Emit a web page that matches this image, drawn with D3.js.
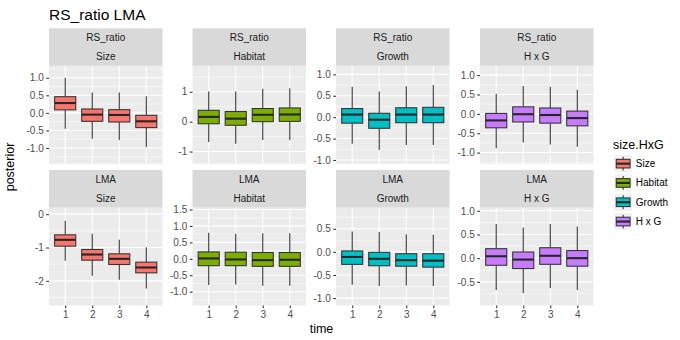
<!DOCTYPE html>
<html>
<head>
<meta charset="utf-8">
<script src="https://cdnjs.cloudflare.com/ajax/libs/d3/7.8.5/d3.min.js"></script>
<style>
  body { margin: 0; background: #fff; }
  text { font-family: "Liberation Sans", Arial, sans-serif; }
</style>
</head>
<body>
<div id="chart"></div>
<script>
// data: [lower whisker, q1, median, q3, upper whisker] per time
const times = ['1', '2', '3', '4'];
const variables = ['RS_ratio', 'LMA'];
const groups = ['Size', 'Habitat', 'Growth', 'H x G'];

const rsSize = [[-0.45, 0.085, 0.28, 0.46, 1.0], [-0.74, -0.24, -0.05, 0.11, 0.58], [-0.77, -0.26, -0.06, 0.09, 0.58], [-0.97, -0.42, -0.24, -0.07, 0.47]];
const rsHabitat = [[-0.68, -0.07, 0.16, 0.38, 1.01], [-0.74, -0.12, 0.10, 0.34, 1.01], [-0.61, 0.0, 0.23, 0.44, 1.10], [-0.61, 0.01, 0.24, 0.46, 1.12]];
const rsGrowth = [[-0.62, -0.14, 0.06, 0.2, 0.71], [-0.77, -0.26, -0.06, 0.09, 0.6], [-0.65, -0.13, 0.06, 0.22, 0.72], [-0.65, -0.13, 0.06, 0.23, 0.75]];
const rsHxG = [[-0.89, -0.36, -0.17, 0.01, 0.52], [-0.74, -0.21, -0.01, 0.18, 0.72], [-0.79, -0.24, -0.03, 0.15, 0.70], [-0.85, -0.31, -0.11, 0.07, 0.62]];
const lmaSize = [[-1.40, -0.96, -0.77, -0.62, -0.2], [-1.85, -1.38, -1.21, -1.06, -0.59], [-1.97, -1.51, -1.34, -1.19, -0.77], [-2.23, -1.76, -1.60, -1.44, -0.99]];
const lmaHabitat = [[-0.8, -0.21, 0.01, 0.21, 0.79], [-0.78, -0.21, -0.02, 0.2, 0.76], [-0.82, -0.23, -0.04, 0.19, 0.78], [-0.82, -0.23, -0.03, 0.19, 0.78]];
const lmaGrowth = [[-0.71, -0.27, -0.11, 0.02, 0.44], [-0.74, -0.30, -0.15, -0.01, 0.43], [-0.73, -0.31, -0.18, -0.04, 0.38], [-0.74, -0.33, -0.19, -0.04, 0.37]];
const lmaHxG = [[-0.67, -0.15, 0.04, 0.2, 0.72], [-0.74, -0.22, -0.03, 0.13, 0.65], [-0.63, -0.13, 0.05, 0.22, 0.72], [-0.67, -0.17, 0.0, 0.16, 0.67]];

// free y scales: limits and tick labels per panel
const rsLimits = [[-1.45, 1.34], [-1.41, 1.87], [-1.09, 1.2], [-1.29, 1.24]];
const lmaLimits = [[-2.74, 0.2], [-1.42, 1.56], [-1.16, 0.96], [-1.0, 1.07]];
const rsTicks = [['1.0', '0.5', '0.0', '-0.5', '-1.0'], ['1', '0', '-1'], ['1.0', '0.5', '0.0', '-0.5', '-1.0'], ['1.0', '0.5', '0.0', '-0.5', '-1.0']];
const lmaTicks = [['0', '-1', '-2'], ['1.5', '1.0', '0.5', '0.0', '-0.5', '-1.0'], ['0.5', '0.0', '-0.5', '-1.0'], ['1.0', '0.5', '0.0', '-0.5']];

const panelStats = [[rsSize, rsHabitat, rsGrowth, rsHxG], [lmaSize, lmaHabitat, lmaGrowth, lmaHxG]];
const panelLimits = [rsLimits, lmaLimits];
const panelTicks = [rsTicks, lmaTicks];

const fills = ['#F8766D', '#7CAE00', '#00BFC4', '#C77CFF'];

// layout
const svgwidth = 680;
const svgheight = 340;
const panelLeft = [49, 192.5, 336, 480];
const panelW = 113.5;
const stripTop = [28.3, 170];
const stripH = 37.5;
const panelH = 98;
const small = 10;

const svg = d3.select('#chart').append('svg')
  .attr('width', svgwidth).attr('height', svgheight);

svg.append('text')
  .attr('x', 49).attr('y', 20)
  .attr('font-size', 15.5).attr('fill', '#000')
  .text('RS_ratio LMA');

const x = d3.scalePoint().domain(times).range([0, panelW]).padding(0.6);
const boxW = x.step() * 0.78;

variables.forEach((v, r) => {
  groups.forEach((g, c) => {
    const left = panelLeft[c];
    const top = stripTop[r] + stripH;
    const pg = svg.append('g').attr('transform', `translate(${left},${top})`);

    // strip
    const sg = svg.append('g').attr('transform', `translate(${left},${stripTop[r]})`);
    sg.append('rect').attr('width', panelW).attr('height', stripH).attr('fill', '#d9d9d9');
    sg.append('text').attr('x', panelW / 2).attr('y', 9.4).attr('dy', '0.35em')
      .attr('text-anchor', 'middle').attr('font-size', small).attr('fill', '#1a1a1a').text(v);
    sg.append('text').attr('x', panelW / 2).attr('y', 28.4).attr('dy', '0.35em')
      .attr('text-anchor', 'middle').attr('font-size', small).attr('fill', '#1a1a1a').text(g);

    const y = d3.scaleLinear().domain(panelLimits[r][c]).range([panelH, 0]);
    const ticks = panelTicks[r][c].map(Number).sort((a, b) => a - b);
    const step = ticks[1] - ticks[0];

    pg.append('rect').attr('width', panelW).attr('height', panelH).attr('fill', '#ebebeb');

    // minor grid
    const minor = [];
    const dom = y.domain();
    for (let m = ticks[0] - step / 2; m <= dom[1]; m += step) {
      if (m >= dom[0]) minor.push(m);
    }
    pg.selectAll('.minor').data(minor).enter().append('line')
      .attr('x1', 0).attr('x2', panelW)
      .attr('y1', d => y(d)).attr('y2', d => y(d))
      .attr('stroke', '#fff').attr('stroke-width', 0.55);

    // major grid
    pg.selectAll('.majory').data(ticks).enter().append('line')
      .attr('x1', 0).attr('x2', panelW)
      .attr('y1', d => y(d)).attr('y2', d => y(d))
      .attr('stroke', '#fff').attr('stroke-width', 1.1);
    pg.selectAll('.majorx').data(times).enter().append('line')
      .attr('x1', d => x(d)).attr('x2', d => x(d))
      .attr('y1', 0).attr('y2', panelH)
      .attr('stroke', '#fff').attr('stroke-width', 1.1);

    // y axis
    const yAxis = d3.axisLeft(y).tickValues(ticks).tickSize(2.75).tickPadding(2.5)
      .tickFormat(d => panelTicks[r][c].find(t => Number(t) === d));
    const ya = pg.append('g').call(yAxis);
    ya.select('.domain').remove();
    ya.selectAll('line').attr('stroke', '#333').attr('stroke-width', 1.07);
    ya.selectAll('text').attr('font-size', small).attr('fill', '#4d4d4d')
      .attr('font-family', '"Liberation Sans", Arial, sans-serif');

    // x axis on bottom row
    if (r === 1) {
      const xa = pg.append('g').attr('transform', `translate(0,${panelH})`)
        .call(d3.axisBottom(x).tickSize(2.75).tickPadding(2.5));
      xa.select('.domain').remove();
      xa.selectAll('line').attr('stroke', '#333').attr('stroke-width', 1.07);
      xa.selectAll('text').attr('font-size', small).attr('fill', '#4d4d4d')
        .attr('font-family', '"Liberation Sans", Arial, sans-serif');
    }

    // boxplots
    const stats = panelStats[r][c];
    const boxes = pg.selectAll('.box').data(stats).enter().append('g');
    boxes.append('line')
      .attr('x1', (d, i) => x(times[i])).attr('x2', (d, i) => x(times[i]))
      .attr('y1', d => y(d[4])).attr('y2', d => y(d[3]))
      .attr('stroke', '#333').attr('stroke-width', 1.07);
    boxes.append('line')
      .attr('x1', (d, i) => x(times[i])).attr('x2', (d, i) => x(times[i]))
      .attr('y1', d => y(d[1])).attr('y2', d => y(d[0]))
      .attr('stroke', '#333').attr('stroke-width', 1.07);
    boxes.append('rect')
      .attr('x', (d, i) => x(times[i]) - boxW / 2).attr('width', boxW)
      .attr('y', d => y(d[3])).attr('height', d => y(d[1]) - y(d[3]))
      .attr('fill', fills[c]).attr('stroke', '#333').attr('stroke-width', 1.07);
    boxes.append('line')
      .attr('x1', (d, i) => x(times[i]) - boxW / 2).attr('x2', (d, i) => x(times[i]) + boxW / 2)
      .attr('y1', d => y(d[2])).attr('y2', d => y(d[2]))
      .attr('stroke', '#262626').attr('stroke-width', 2.1);
  });
});

// axis titles
svg.append('text').attr('x', 321.5).attr('y', 333)
  .attr('text-anchor', 'middle').attr('font-size', 12.5).attr('fill', '#000').text('time');
svg.append('text').attr('transform', 'translate(14,167) rotate(-90)')
  .attr('text-anchor', 'middle').attr('font-size', 12.5).attr('fill', '#000').text('posterior');

// legend
const legend = svg.append('g').attr('transform', 'translate(613,0)');
legend.append('text').attr('x', 0).attr('y', 149)
  .attr('font-size', 12.5).attr('fill', '#000').text('size.HxG');
const keyS = 17.3;
const keys = legend.selectAll('.key').data(groups).enter().append('g')
  .attr('transform', (d, i) => `translate(1.5,${155 + i * 19.3})`);
keys.append('rect').attr('width', keyS).attr('height', keyS).attr('fill', '#f2f2f2');
keys.append('line').attr('x1', keyS / 2).attr('x2', keyS / 2)
  .attr('y1', keyS * 0.1).attr('y2', keyS * 0.9)
  .attr('stroke', '#333').attr('stroke-width', 1.07);
keys.append('rect').attr('x', keyS * 0.1).attr('width', keyS * 0.8)
  .attr('y', keyS * 0.25).attr('height', keyS * 0.5)
  .attr('fill', (d, i) => fills[i]).attr('stroke', '#333').attr('stroke-width', 1.07);
keys.append('line').attr('x1', keyS * 0.1).attr('x2', keyS * 0.9)
  .attr('y1', keyS / 2).attr('y2', keyS / 2)
  .attr('stroke', '#262626').attr('stroke-width', 2.1);
keys.append('text').attr('x', keyS + 4).attr('y', keyS / 2).attr('dy', '0.35em')
  .attr('font-size', small).attr('fill', '#000').text(d => d);
</script>
</body>
</html>
